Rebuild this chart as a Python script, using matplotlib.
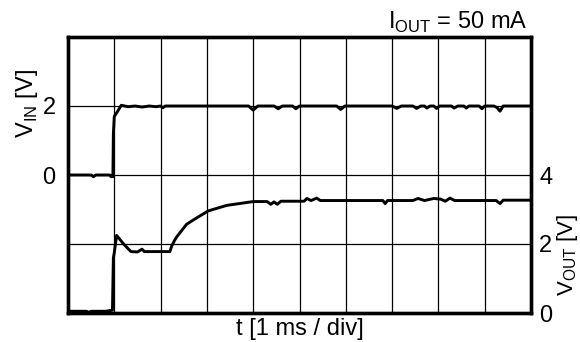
import matplotlib
matplotlib.use("Agg")
import matplotlib.pyplot as plt

plt.rcParams['font.family'] = ['Liberation Sans', 'DejaVu Sans']
plt.rcParams['mathtext.fontset'] = 'custom'
plt.rcParams['mathtext.rm'] = 'Liberation Sans'

# time in divisions (1 ms / div)
vin_t = [0.0, 0.5, 0.55, 0.6, 0.9, 0.93, 0.96, 0.97, 0.98, 1.0, 1.05, 1.15, 1.3, 1.45, 1.6, 1.75,
         1.9, 2.0, 2.05, 2.1, 2.2, 3.9, 4.0, 4.1, 4.45, 4.54, 4.63, 4.85, 4.92, 5.0, 5.8, 5.89,
         5.98, 7.0, 7.1, 7.2, 7.45, 7.53, 7.62, 7.7, 7.75, 7.82, 7.9, 7.96, 8.03, 8.28, 8.34,
         8.42, 8.55, 8.6, 8.66, 8.88, 8.94, 9.0, 9.2, 9.27, 9.33, 9.4, 10.0]
vin_v = [0.0, 0.0, -0.05, 0.0, 0.0, -0.05, 0.0, -0.05, 1.2, 1.7, 1.8, 2.02, 1.98, 2.0, 1.97, 2.0,
         1.98, 2.0, 1.95, 2.0, 2.0, 2.0, 1.88, 2.0, 2.0, 1.92, 2.0, 2.0, 1.92, 2.0, 2.0, 1.9,
         2.0, 2.0, 1.93, 2.0, 2.0, 1.93, 2.0, 2.0, 1.94, 2.0, 2.0, 1.93, 2.0, 2.0, 1.94,
         2.0, 2.0, 1.94, 2.0, 2.0, 1.92, 2.0, 2.0, 1.95, 1.85, 2.0, 2.0]

vout_t = [0.0, 0.4, 0.45, 0.5, 0.55, 0.8, 0.96, 0.98, 1.0, 1.05, 1.2, 1.36, 1.5, 1.6, 1.65, 1.72,
          2.2, 2.24, 2.3, 2.35, 2.56, 2.71, 3.03, 3.43, 4.0, 4.3, 4.38, 4.45, 4.52, 4.6,
          5.1, 5.16, 5.25, 5.37, 5.45, 6.8, 6.85, 6.9, 7.45, 7.56, 7.7, 7.9, 8.05, 8.15,
          8.25, 8.35, 9.25, 9.33, 9.4, 10.0]
vout_v = [0.05, 0.05, 0.02, 0.05, 0.05, 0.05, 0.08, 1.6, 1.75, 2.25, 2.0, 1.78, 1.77, 1.85, 1.78, 1.78,
          1.78, 1.94, 2.1, 2.21, 2.57, 2.7, 2.96, 3.12, 3.23, 3.23, 3.15, 3.22, 3.15, 3.24,
          3.24, 3.32, 3.26, 3.33, 3.26, 3.26, 3.17, 3.26, 3.26, 3.32, 3.26, 3.32, 3.3, 3.24,
          3.33, 3.26, 3.26, 3.17, 3.27, 3.27]

FS = 17

fig = plt.figure(figsize=(5.8, 3.42), dpi=100)
ax = fig.add_axes([68/580, 1-313/342, 463/580, 276/342])
ax2 = ax.twinx()

ax.set_xlim(0, 10)
ax.set_ylim(-4, 4)
ax2.set_ylim(0, 8)

ax.set_xticks(range(0, 11))
ax.set_xticklabels([])
ax.set_yticks([-4, -2, 0, 2, 4])
ax.set_yticklabels(['', '', '0', '2', ''])
ax2.set_yticks([0, 2, 4, 6, 8])
ax2.set_yticklabels(['0', '2', '4', '', ''])
ax.grid(True, color='black', linewidth=0.9)
ax.tick_params(length=0, labelsize=FS, pad=9)
ax2.tick_params(length=0, labelsize=FS, pad=6)

ax.plot(vin_t, vin_v, color='black', linewidth=2.1, solid_joinstyle='round')
ax2.plot(vout_t, vout_v, color='black', linewidth=2.1, solid_joinstyle='round')

for a in (ax, ax2):
    for s in a.spines.values():
        s.set_linewidth(2.4)
        s.set_color('black')

fig.text(300/580, 1-329/342, 't [1 ms / div]', ha='center', va='center', fontsize=FS)
fig.text(27/580, 1-103/342, r'V$_{\mathregular{IN}}$ [V]', rotation=90, ha='center', va='center', fontsize=FS)
fig.text(567.5/580, 1-255/342, r'V$_{\mathregular{OUT}}$ [V]', rotation=90, ha='center', va='center', fontsize=16)
fig.text(528/580, 1-29/342, r'I$_{\mathregular{OUT}}$ = 50 mA', ha='right', va='baseline', fontsize=FS)

fig.savefig('out.png', dpi=100)
